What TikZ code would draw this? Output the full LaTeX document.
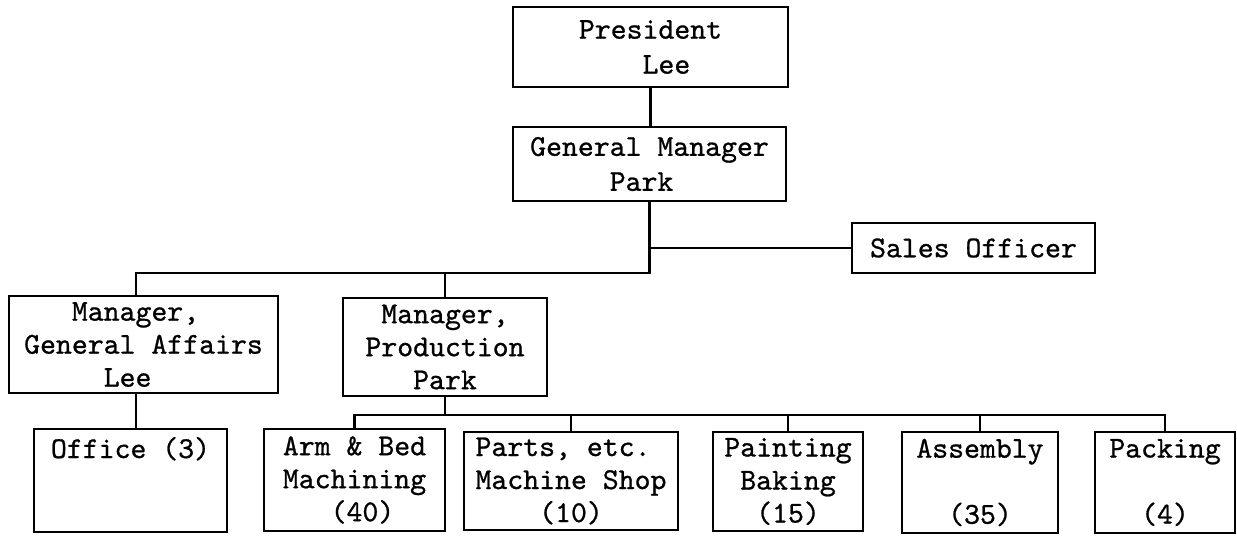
\documentclass[tikz,border=0pt]{standalone}
\usepackage{fontspec}
\setmonofont{lmmono10-regular.otf}[FakeBold=0.8]
\begin{document}
\begin{tikzpicture}[x=1pt,y=-1pt,
  box/.style={draw, line width=2.8pt, inner sep=0pt, align=center,
    font=\ttfamily\fontsize{30.3}{33}\selectfont},
  tallbox/.style={box, font=\ttfamily\fontsize{30.3}{35}\selectfont},
  conn/.style={line width=2.8pt}]
\useasboundingbox (0,0) rectangle (1237,536);

\node[tallbox, minimum width=275pt, minimum height=80pt] (pres) at (650.5,47)
  {President\\\hphantom{XX}Lee};
\node[tallbox, minimum width=273pt, minimum height=74pt] (gm) at (649.5,164)
  {General Manager\\Park\hphantom{X}};
\node[box, minimum width=243pt, minimum height=50pt] (sales) at (973.5,248)
  {Sales Officer};
\node[box, minimum width=269pt, minimum height=97pt] (ga) at (143.5,344.5)
  {Manager,\hphantom{X}\\General Affairs\\Lee\hphantom{XX}};
\node[box, minimum width=204pt, minimum height=98pt] (prod) at (445,347)
  {Manager,\\Production\\Park};
\node[box, minimum width=193pt, minimum height=103pt] (office) at (130.5,480.5)
  {Office (3)\\\mbox{}\\\mbox{}};
\node[box, minimum width=181pt, minimum height=102pt] (arm) at (354.5,480)
  {Arm \& Bed\\Machining\\\hphantom{X}(40)};
\node[box, minimum width=214pt, minimum height=98pt] (parts) at (571,481)
  {Parts, etc.\hphantom{X}\\Machine Shop\\(10)};
\node[box, minimum width=150pt, minimum height=99pt] (paint) at (788,481.5)
  {Painting\\Baking\\(15)};
\node[box, minimum width=156pt, minimum height=101pt] (assy) at (980,482.5)
  {Assembly\\\mbox{}\\(35)};
\node[box, minimum width=140pt, minimum height=101pt] (pack) at (1165,482.5)
  {Packing\\\mbox{}\\(4)};

\coordinate (bus1) at (0,273);
\coordinate (bus2) at (0,415);

\draw[conn] (pres.south) -- (pres.south |- gm.north);
\draw[conn] (gm.south) |- (sales.west);
\draw[conn] (gm.south) -- (gm.south |- bus1) -| ([xshift=-7.5pt]ga.north);
\draw[conn] (gm.south |- bus1) -| (prod.north);
\draw[conn] ([xshift=-7.5pt]ga.south) -- ([xshift=-7.5pt]ga.south |- office.north);
\draw[conn] (prod.south) -- (prod.south |- bus2);
\draw[conn] (arm.north) |- (pack.north |- bus2) -- (pack.north);
\foreach \n in {parts,paint,assy}
  \draw[conn] (\n.north) -- (\n.north |- bus2);
\end{tikzpicture}
\end{document}
